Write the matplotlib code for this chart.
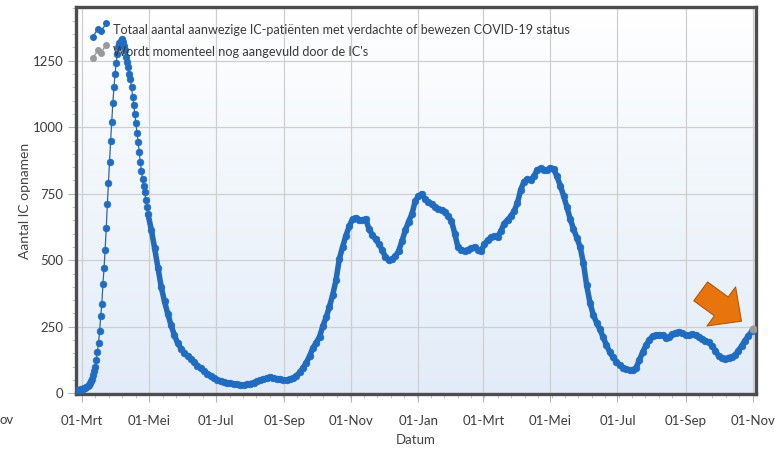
import numpy as np
import pandas as pd
import matplotlib
matplotlib.use('Agg')
import matplotlib.pyplot as plt
import matplotlib.dates as mdates
from matplotlib.ticker import AutoMinorLocator, FuncFormatter
from matplotlib.legend_handler import HandlerBase
from matplotlib.lines import Line2D
from matplotlib.colors import LinearSegmentedColormap

plt.rcParams['font.family'] = ['Lato', 'DejaVu Sans']

# first wave, one value per day (26 Feb - 30 Apr 2020)
firstStart = '2020-02-26'
firstWave = [11, 12, 13, 14,
             15, 16, 18, 20, 23, 27, 31, 37, 45, 55, 68, 82, 100, 125, 155, 190,
             235, 290, 335, 410, 470, 540, 620, 710, 790, 870, 950, 1020, 1090, 1150, 1200,
             1240, 1275, 1300, 1315, 1325, 1330, 1320, 1305, 1290, 1265, 1245, 1225, 1200, 1180, 1150,
             1115, 1085, 1050, 1015, 980, 945, 905, 870, 835, 805, 780, 755, 728, 700, 672]

# rest of the period, one value every 3 days (from 3 May 2020)
restStart = '2020-05-03'
restValues = [615, 545, 472, 400, 345, 298, 255, 218, 188, 168,
              152, 140, 128, 116, 104, 93, 83, 74, 66, 58,
              51, 46, 42, 39, 37, 35, 33, 31, 30, 33,
              36, 40, 45, 49, 53, 57, 61, 58, 55, 52,
              49, 50, 53, 57, 66, 78, 95, 115, 140, 170,
              190, 212, 252, 285, 325, 370, 425, 505, 550, 592,
              627, 655, 660, 650, 652, 655, 617, 596, 578, 562,
              538, 512, 500, 505, 514, 535, 572, 612, 645, 673,
              722, 740, 750, 730, 718, 712, 700, 692, 690, 680,
              665, 648, 600, 548, 540, 535, 540, 545, 550, 540,
              535, 560, 575, 586, 590, 588, 610, 638, 652, 665,
              685, 715, 765, 795, 805, 802, 815, 840, 845, 838,
              840, 848, 842, 815, 780, 742, 700, 655, 618, 585,
              550, 490, 405, 340, 295, 265, 240, 210, 180, 155,
              135, 118, 105, 96, 90, 86, 88, 96, 125, 155,
              180, 200, 215, 218, 220, 217, 208, 212, 222, 228,
              230, 226, 220, 218, 222, 220, 210, 204, 198, 192,
              178, 160, 140, 132, 130, 134, 137, 142, 160, 178,
              198, 215, 232]

# still being filled in by the ICs
pendingDates = ['2021-11-01']
pendingValues = [240]

dutchMonths = {1: 'Jan', 2: 'Feb', 3: 'Mrt', 4: 'Apr', 5: 'Mei', 6: 'Jun',
               7: 'Jul', 8: 'Aug', 9: 'Sep', 10: 'Okt', 11: 'Nov', 12: 'Dec'}

label1 = 'Totaal aantal aanwezige IC-patiënten met verdachte of bewezen COVID-19 status'
label2 = "Wordt momenteel nog aangevuld door de IC's"

firstDates = pd.date_range(firstStart, periods=len(firstWave), freq='D')
restDates = pd.date_range(restStart, periods=len(restValues), freq='3D')
dates = firstDates.append(restDates)
values = np.array(firstWave + restValues)
pDates = pd.to_datetime(pendingDates)

BLUE = '#1f6cc0'
GREY = '#9a9a9a'


class ZigZagHandler(HandlerBase):
    # little "mini chart" icon used in the legend
    def create_artists(self, legend, orig_handle, xdescent, ydescent, width, height, fontsize, trans):
        xs = np.array([0.0, 0.38, 0.62, 1.0]) * width - xdescent
        ys = np.array([0.0, 0.62, 0.42, 1.0]) * height - ydescent
        line = Line2D(xs, ys, color=orig_handle.get_color(), lw=1.0,
                      marker='o', ms=4.0, mec=orig_handle.get_color())
        line.set_transform(trans)
        return [line]


fig = plt.figure(figsize=(7.76, 4.51), dpi=100)
ax = fig.add_axes([76/776, 1 - 394/451, 680/776, 387/451])

# background gradient white -> light blue
cmap = LinearSegmentedColormap.from_list('bg', ['#ffffff', '#e2ecf8'])
ax.imshow(np.linspace(0, 1, 256).reshape(-1, 1), extent=[0, 1, 0, 1], transform=ax.transAxes,
          cmap=cmap, aspect='auto', zorder=0, origin='upper')

# the daily dots overlap into a thick band after the first wave
ax.plot(dates[len(firstWave) - 1:], values[len(firstWave) - 1:], color=BLUE, lw=4.0,
        solid_capstyle='round', zorder=2.5)
ax.plot(dates, values, color='#2b66a8', lw=0.9, marker='o', ms=4.8,
        mfc=BLUE, mec=BLUE, mew=0.5, zorder=3)
ax.plot(pDates, pendingValues, color=GREY, lw=0.9, marker='o', ms=4.8, zorder=4)

ax.set_xlim(pd.Timestamp('2020-02-24 12:00'), pd.Timestamp('2021-11-04'))
ax.set_ylim(-3, 1452)

ax.xaxis.set_major_locator(mdates.MonthLocator(bymonth=[1, 3, 5, 7, 9, 11]))
ax.xaxis.set_major_formatter(FuncFormatter(
    lambda v, p: '01-' + dutchMonths[mdates.num2date(v).month]))
ax.xaxis.set_minor_locator(AutoMinorLocator(5))
ax.set_yticks([0, 250, 500, 750, 1000, 1250])
ax.yaxis.set_minor_locator(AutoMinorLocator(5))

ax.grid(True, which='major', color='#cfcfcf', lw=0.9, zorder=1)
ax.set_axisbelow(True)

ax.tick_params(axis='both', which='major', colors='#b5b5b5', labelcolor='#3c3c3c',
               labelsize=9.5, length=6, width=0.8)
ax.tick_params(axis='both', which='minor', colors='#c5c5c5', length=3, width=0.7)
ax.tick_params(axis='x', which='major', pad=9)
ax.tick_params(axis='y', which='major', pad=3)

for s in ax.spines.values():
    s.set_color('#4d4d4d')
    s.set_linewidth(2.4)

ax.set_xlabel('Datum', fontsize=9.5, color='#444444', labelpad=5)
ax.set_ylabel('Aantal IC opnamen', fontsize=10, color='#444444', labelpad=1)

h1 = Line2D([], [], color=BLUE)
h2 = Line2D([], [], color=GREY)
leg = ax.legend([h1, h2], [label1, label2], loc='upper left', bbox_to_anchor=(0.01, 0.984),
                frameon=False, fontsize=9.1, handler_map={Line2D: ZigZagHandler()},
                handlelength=1.05, handleheight=1.3, handletextpad=0.5, labelspacing=0.6,
                borderpad=0.3)
for t in leg.get_texts():
    t.set_color('#3a3a3a')

# arrow pointing at the last (still incomplete) value
ax.annotate('', xy=(pDates[-1], pendingValues[-1]), xytext=(-52, 38), textcoords='offset pixels',
            arrowprops=dict(arrowstyle='simple,head_length=0.75,head_width=1.45,tail_width=0.7',
                            mutation_scale=24, fc='#e8740e', ec='#b5570a', lw=0.8,
                            shrinkA=0, shrinkB=10),
            zorder=5)

# cut-off tick label at the far left of the screenshot
fig.text(0.0, 1 - 420/451, 'ov', fontsize=9.5, color='#3c3c3c', ha='left', va='center')

fig.savefig('out.png', dpi=100)
